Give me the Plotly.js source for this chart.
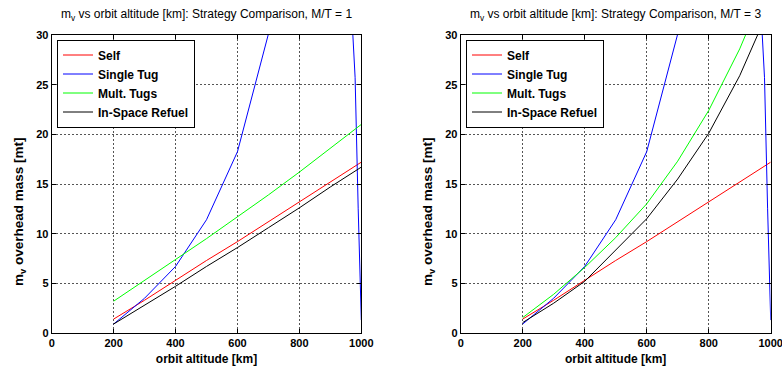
<!DOCTYPE html>
<html>
<head>
<meta charset="utf-8">
<script src="https://cdn.plot.ly/plotly-3.0.1.min.js"></script>
<style>html,body{margin:0;padding:0;background:#fff;}#chart{width:782px;height:368px;}</style>
</head>
<body>
<div id="chart"></div>
<script>
// ---- data ----
const altitude = [200, 300, 400, 500, 600, 700, 800, 900, 1000];
const seriesNames = ["Self", "Single Tug", "Mult. Tugs", "In-Space Refuel"];
const selfMass = [1.4, 3.3, 5.3, 7.3, 9.2, 11.2, 13.2, 15.2, 17.2];
const multTugsMT1 = [3.2, 5.3, 7.4, 9.5, 11.7, 13.9, 16.2, 18.6, 21.0];
const refuelMT1 = [0.9, 2.8, 4.7, 6.7, 8.6, 10.6, 12.6, 14.7, 16.7];
const multTugsMT3 = [1.55, 3.9, 6.6, 9.6, 13.0, 17.3, 22.4, 28.6, 36.0];
const refuelMT3 = [1.05, 3.0, 5.2, 8.3, 11.5, 15.5, 20.1, 25.9, 33.0];
const singleTugAlt = [200, 300, 400, 500, 600, 700, 800, 900, 970, 980, 990, 1000];
const singleTugMass = [0.9, 3.5, 6.7, 11.4, 18.25, 30.1, 55, 90, 31.6, 25.7, 12.5, 1.3];
const xTicks = [0, 200, 400, 600, 800, 1000];
const yTicks = [0, 5, 10, 15, 20, 25, 30];
const titles = ["m<sub>v</sub> vs orbit altitude [km]: Strategy Comparison, M/T = 1",
                "m<sub>v</sub> vs orbit altitude [km]: Strategy Comparison, M/T = 3"];
const xTitle = "orbit altitude [km]";
const yTitle = "m<sub>v</sub> overhead mass [mt]";
const colors = ["#ff0000", "#0000ff", "#00ff00", "#000000"];

const FONT = "Liberation Sans, Arial, Helvetica, sans-serif";
const W = 782, H = 368;

function mk(x, y, i, xa, ya, lg) {
  return {x: x, y: y, type: "scatter", mode: "lines", name: seriesNames[i],
    line: {color: colors[i], width: 1}, xaxis: xa, yaxis: ya, legend: lg};
}
const data = [
  mk(altitude, selfMass, 0, "x", "y", "legend"),
  mk(singleTugAlt, singleTugMass, 1, "x", "y", "legend"),
  mk(altitude, multTugsMT1, 2, "x", "y", "legend"),
  mk(altitude, refuelMT1, 3, "x", "y", "legend"),
  mk(altitude, selfMass, 0, "x2", "y2", "legend2"),
  mk(singleTugAlt, singleTugMass, 1, "x2", "y2", "legend2"),
  mk(altitude, multTugsMT3, 2, "x2", "y2", "legend2"),
  mk(altitude, refuelMT3, 3, "x2", "y2", "legend2")
];

const GRID = "#555555";
const DASH = "2px,2px";
function xax(l, r, anchor) {
  return {domain: [l / W, r / W], anchor: anchor, range: [0, 1000], tickvals: xTicks,
    ticks: "inside", ticklen: 4, tickcolor: "#000", showline: true, linecolor: "#000", linewidth: 1,
    mirror: "allticks", showgrid: true, gridcolor: GRID, griddash: DASH, gridwidth: 1,
    zeroline: false, ticklabeloverflow: "allow",
    tickfont: {family: FONT, size: 11, color: "#000", weight: "bold"},
    title: {text: xTitle, font: {family: FONT, size: 12, color: "#000", weight: "bold"}, standoff: 6},
    automargin: false, fixedrange: true};
}
function yax(anchor) {
  return {domain: [1 - 333 / H, 1 - 35 / H], anchor: anchor, range: [0, 30], tickvals: yTicks,
    ticks: "inside", ticklen: 4, tickcolor: "#000", showline: true, linecolor: "#000", linewidth: 1,
    mirror: "allticks", showgrid: true, gridcolor: GRID, griddash: DASH, gridwidth: 1,
    zeroline: false, tickfont: {family: FONT, size: 11, color: "#000", weight: "bold"},
    automargin: false, fixedrange: true};
}
function leg(xpx) {
  return {x: xpx / W, y: 1 - 39.5 / H, xanchor: "left", yanchor: "top", bgcolor: "#fff",
    bordercolor: "#000", borderwidth: 1, font: {family: FONT, size: 12, color: "#000", weight: "bold"},
    tracegroupgap: 0, itemclick: false, itemdoubleclick: false};
}
function ann(text, xpx, ypx, size, bold, angle) {
  return {text: text, xref: "paper", yref: "paper", x: xpx / W, y: 1 - ypx / H,
    xanchor: "center", yanchor: "middle", showarrow: false, textangle: angle || 0,
    font: {family: FONT, size: size, color: "#000", weight: bold ? "bold" : "normal"}};
}

const layout = {
  width: W, height: H, autosize: false,
  margin: {l: 0, r: 0, t: 0, b: 0},
  paper_bgcolor: "#fff", plot_bgcolor: "#fff",
  showlegend: true,
  xaxis: xax(51.7, 361.3, "y"),
  yaxis: yax("x"),
  xaxis2: xax(460.7, 770.7, "y2"),
  yaxis2: yax("x2"),
  legend: leg(57),
  legend2: leg(466),
  annotations: [
    ann(titles[0], 206.5, 15, 12, false),
    ann(titles[1], 615.7, 15, 12, false),
    ann(yTitle, 19, 212, 13.5, true, -90),
    ann(yTitle, 428, 212, 13.5, true, -90)
  ]
};

Plotly.newPlot("chart", data, layout, {displayModeBar: false, staticPlot: true});
</script>
</body>
</html>
